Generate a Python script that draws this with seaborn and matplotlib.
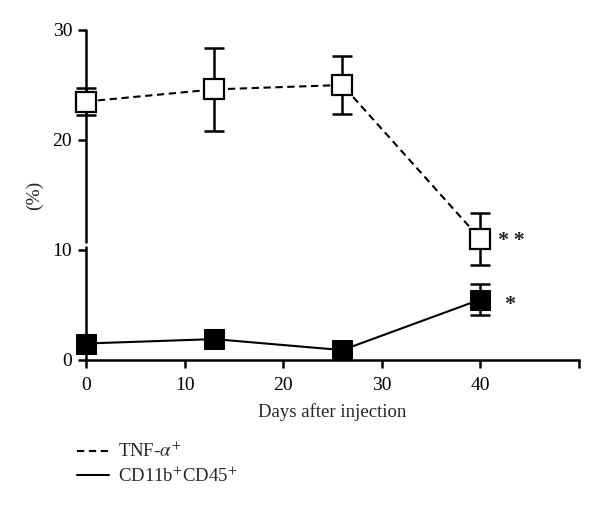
import matplotlib
matplotlib.use("Agg")
import matplotlib.pyplot as plt
from matplotlib.lines import Line2D
import seaborn as sns
import pandas as pd

# Dados
dias = [0, 13, 26, 40]
tnf_media = [23.5, 24.6, 25.0, 11.0]
tnf_erro = [1.2, 3.8, 2.6, 2.4]
cd11b_media = [1.5, 1.9, 0.9, 5.5]
cd11b_erro = [0.0, 0.0, 0.0, 1.4]
marcas = ["*\u2009*", "*"]

sns.set_style("ticks")
plt.rcParams["font.family"] = ["Liberation Serif", "DejaVu Serif"]
plt.rcParams["mathtext.fontset"] = "stix"

fig = plt.figure(figsize=(6, 5.07), dpi=100)
ax = fig.add_axes([86 / 600, 1 - 360 / 507, (579 - 86) / 600, (360 - 30) / 507])

df = pd.DataFrame({
    "dias": dias * 2,
    "valor": tnf_media + cd11b_media,
    "grupo": ["TNF"] * 4 + ["CD11b"] * 4,
})

tracejado = (0, (3.5, 2.2))

sns.lineplot(data=df[df["grupo"] == "TNF"], x="dias", y="valor", ax=ax, color="black",
             linestyle=tracejado, linewidth=1.5, marker="s", markersize=14,
             markerfacecolor="white", markeredgecolor="black", markeredgewidth=1.6,
             clip_on=False, zorder=3)
sns.lineplot(data=df[df["grupo"] == "CD11b"], x="dias", y="valor", ax=ax, color="black",
             linestyle="-", linewidth=1.5, marker="s", markersize=14,
             markerfacecolor="black", markeredgecolor="black", clip_on=False, zorder=3)

ax.errorbar(dias, tnf_media, yerr=tnf_erro, fmt="none", ecolor="black", elinewidth=1.8,
            capsize=7.5, capthick=1.8, clip_on=False, zorder=2)
ax.errorbar(dias, cd11b_media, yerr=cd11b_erro, fmt="none", ecolor="black", elinewidth=1.8,
            capsize=7.5, capthick=1.8, clip_on=False, zorder=2)

ax.text(43.1, tnf_media[3] - 0.2, marcas[0], ha="center", va="center", fontsize=16,
        fontweight="bold")
ax.text(43, cd11b_media[3] - 0.5, marcas[1], ha="center", va="center", fontsize=16,
        fontweight="bold")

ax.set_xlim(0, 50)
ax.set_ylim(0, 30)
ax.set_xticks([0, 10, 20, 30, 40, 50])
ax.set_xticklabels(["0", "10", "20", "30", "40", ""])
ax.set_yticks([0, 10, 20, 30])
ax.tick_params(axis="both", direction="out", length=6, width=1.8, labelsize=14,
               color="black", labelcolor="black", pad=4)
ax.tick_params(axis="x", pad=6)

for lado in ["top", "right", "left"]:
    ax.spines[lado].set_visible(False)
ax.spines["bottom"].set_linewidth(1.8)
ax.spines["bottom"].set_color("black")

# eixo y com pequena interrupção acima do 10
trans = ax.get_yaxis_transform()
ax.plot([0, 0], [0, 10.3], transform=trans, color="black", linewidth=1.8, clip_on=False, zorder=1)
ax.plot([0, 0], [10.75, 30], transform=trans, color="black", linewidth=1.8, clip_on=False, zorder=1)

ax.set_xlabel("Days after injection", fontsize=13.5, labelpad=7)
ax.set_ylabel("(%)", fontsize=14, labelpad=7)

legenda = [
    Line2D([0], [0], color="black", linestyle=tracejado, linewidth=1.5),
    Line2D([0], [0], color="black", linestyle="-", linewidth=1.5),
]
fig.legend(legenda, ["TNF-$\\alpha^{+}$", "CD11b$^{+}$CD45$^{+}$"],
           loc="upper left", bbox_to_anchor=(60 / 600, 1 - 425 / 507), frameon=False,
           fontsize=13.5, handlelength=1.7, handletextpad=0.5, labelspacing=0.25)

fig.savefig("out.png", dpi=100)
